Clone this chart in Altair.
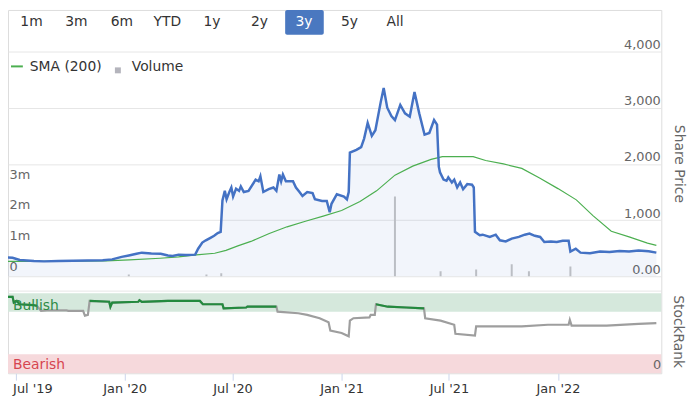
import altair as alt
import pandas as pd

# ---------------- data ----------------
price_dates = ["2019-06-13", "2019-06-26", "2019-07-08", "2019-08-01", "2019-08-18", "2019-09-11",
               "2019-10-06", "2019-10-31", "2019-11-25", "2019-12-11", "2019-12-27", "2020-01-08",
               "2020-01-21", "2020-01-30", "2020-02-15", "2020-03-02", "2020-03-14", "2020-03-22",
               "2020-04-01", "2020-04-13", "2020-04-29", "2020-05-04", "2020-05-11", "2020-05-17",
               "2020-05-24", "2020-05-31", "2020-06-06", "2020-06-11", "2020-06-14", "2020-06-18",
               "2020-06-21", "2020-06-26", "2020-06-29", "2020-07-02", "2020-07-07", "2020-07-12",
               "2020-07-15", "2020-07-20", "2020-07-28", "2020-08-09", "2020-08-14", "2020-08-17",
               "2020-08-22", "2020-08-31", "2020-09-08", "2020-09-13", "2020-09-18", "2020-09-21",
               "2020-09-24", "2020-09-29", "2020-10-11", "2020-10-16", "2020-10-22", "2020-10-27",
               "2020-11-04", "2020-11-13", "2020-11-17", "2020-11-29", "2020-12-07", "2020-12-12",
               "2020-12-15", "2020-12-24", "2021-01-05", "2021-01-10", "2021-01-13", "2021-01-15",
               "2021-01-26", "2021-02-03", "2021-02-08", "2021-02-14", "2021-02-21", "2021-02-27",
               "2021-03-08", "2021-03-13", "2021-03-19", "2021-03-26", "2021-04-01", "2021-04-10",
               "2021-04-18", "2021-04-26", "2021-05-04", "2021-05-12", "2021-05-21", "2021-05-29",
               "2021-06-06", "2021-06-11", "2021-06-14", "2021-06-16", "2021-06-22", "2021-06-27",
               "2021-06-30", "2021-07-06", "2021-07-10", "2021-07-15", "2021-07-20", "2021-07-25",
               "2021-08-01", "2021-08-09", "2021-08-12", "2021-08-14", "2021-08-22", "2021-08-27",
               "2021-09-08", "2021-09-18", "2021-09-25", "2021-10-05", "2021-10-15", "2021-10-27",
               "2021-11-06", "2021-11-14", "2021-11-23", "2021-12-02", "2021-12-09", "2021-12-20",
               "2021-12-30", "2022-01-09", "2022-01-19", "2022-01-22", "2022-01-31", "2022-02-08",
               "2022-02-24", "2022-03-13", "2022-03-29", "2022-04-15", "2022-05-01", "2022-05-17",
               "2022-06-03", "2022-06-16"]
price_values = [335, 330, 290, 270, 265, 270,
                275, 280, 285, 300, 345, 370,
                400, 420, 405, 400, 370, 360,
                385, 380, 385, 490, 600, 640,
                680, 720, 770, 790, 1350, 1520,
                1370, 1510, 1580, 1420, 1560, 1520,
                1600, 1500, 1520, 1720, 1690, 1780,
                1500, 1550, 1580, 1520, 1810, 1690,
                1810, 1690, 1690, 1580, 1500, 1430,
                1500, 1480, 1370, 1340, 1340, 1140,
                1290, 1460, 1420, 1370, 1500, 2200,
                2250, 2300, 2450, 2730, 2500, 2600,
                3100, 3350, 3000, 2850, 2780, 3050,
                2900, 2840, 3280, 2900, 2520, 2550,
                2780, 2700, 1950, 1850, 1720, 1700,
                1760, 1670, 1720, 1580, 1670, 1550,
                1640, 1630, 1580, 790, 730, 740,
                700, 740, 640, 620, 670, 700,
                740, 760, 720, 700, 610, 620,
                610, 630, 630, 440, 490, 420,
                410, 440, 430, 450, 440, 460,
                445, 420]

sma_dates = ["2019-06-13", "2019-08-01", "2019-10-01", "2019-12-01", "2020-01-09", "2020-03-01",
             "2020-04-01", "2020-05-01", "2020-06-01", "2020-06-20", "2020-07-10", "2020-08-01",
             "2020-09-01", "2020-10-01", "2020-11-01", "2020-12-01", "2021-01-01", "2021-02-01",
             "2021-03-01", "2021-04-01", "2021-05-01", "2021-06-01", "2021-06-20", "2021-08-11",
             "2021-09-01", "2021-10-01", "2021-11-01", "2021-12-01", "2022-01-01", "2022-02-01",
             "2022-03-01", "2022-04-01", "2022-05-01", "2022-06-01", "2022-06-16"]
sma_values = [265, 265, 268, 275, 290, 320,
              345, 380, 410, 460, 540, 620,
              760, 880, 980, 1070, 1170, 1330,
              1520, 1800, 1960, 2080, 2130, 2130,
              2060, 2000, 1920, 1750, 1560, 1360,
              1080, 800, 700, 590, 550]

vol_dates = ["2020-01-08", "2020-05-18", "2020-06-12", "2021-04-01", "2021-06-17", "2021-08-16",
             "2021-10-15", "2021-11-13", "2022-01-22"]
vol_values = [60000, 60000, 100000, 2600000, 160000, 220000,
              390000, 160000, 320000]

rank_dates = ["2019-06-13", "2019-06-26", "2019-06-28", "2019-07-03", "2019-07-08", "2019-07-31",
              "2019-08-06", "2019-08-13", "2019-08-23", "2019-09-25", "2019-09-28", "2019-10-23",
              "2019-10-26", "2019-10-31", "2019-11-03", "2019-12-06", "2019-12-08", "2019-12-11",
              "2020-01-24", "2020-01-26", "2020-01-30", "2020-03-14", "2020-05-07", "2020-05-12",
              "2020-06-14", "2020-06-16", "2020-07-24", "2020-07-26", "2020-09-13", "2020-09-15",
              "2020-10-20", "2020-11-04", "2020-11-25", "2020-12-10", "2020-12-13", "2021-01-01",
              "2021-01-13", "2021-01-15", "2021-01-21", "2021-02-17", "2021-02-19", "2021-02-26",
              "2021-02-28", "2021-03-20", "2021-04-20", "2021-05-20", "2021-05-22", "2021-06-17",
              "2021-07-10", "2021-07-12", "2021-08-14", "2021-08-16", "2021-11-01", "2021-12-15",
              "2022-01-19", "2022-01-21", "2022-01-24", "2022-03-24", "2022-05-17", "2022-06-16"]
rank_values = [93, 93, 86, 88, 84, 83,
               82, 76, 76.5, 76.5, 76, 76,
               70, 71, 88, 87, 81, 86,
               87, 89, 87, 88, 88, 84,
               84, 79, 80, 81, 81, 75,
               73, 71, 67, 62, 52, 49,
               45, 64, 67, 68, 71, 71,
               84, 81, 80, 79, 67, 64,
               59, 48, 46, 57, 57, 59,
               59, 65, 58, 58, 60, 61]
bull_threshold = 77.5

band_names = ["Bullish", "Bearish"]
band_lo = [75, 0]
band_hi = [97.5, 23]
rank_grid = [100]

price_ticks = [0, 1000, 2000, 3000, 4000]
vol_ticks = [0, 1000000, 2000000, 3000000]
x_ticks = [(2019, 7), (2020, 1), (2020, 7), (2021, 1), (2021, 7), (2022, 1)]

buttons = ["1m", "3m", "6m", "YTD", "1y", "2y", "3y", "5y", "All"]
selected = "3y"

# ---------------- frames ----------------
price_df = pd.DataFrame({"date": pd.to_datetime(price_dates), "price": price_values})
sma_df = pd.DataFrame({"date": pd.to_datetime(sma_dates), "price": sma_values})
vol_df = pd.DataFrame({"date": pd.to_datetime(vol_dates), "vol": vol_values})
rank_df = pd.DataFrame({"date": pd.to_datetime(rank_dates), "rank": rank_values})
bull = rank_df["rank"] >= bull_threshold
rank_df["seg"] = (bull != bull.shift()).cumsum()
green_df = rank_df[bull]
band_df = pd.DataFrame({"name": band_names, "lo": band_lo, "hi": band_hi})
grid_df = pd.DataFrame({"g": rank_grid})

FONT = "DejaVu Sans"
BLUE = "#4472c4"

# ---------------- scales / axes ----------------
xscale = alt.Scale(domain=[alt.DateTime(year=2019, month=6, date=26, hours=14),
                           alt.DateTime(year=2022, month=6, date=16)])
xaxis = alt.Axis(values=[alt.DateTime(year=y, month=m, date=1) for y, m in x_ticks],
                 format="%b '%y", title=None, domain=False, grid=False,
                 tickColor="#ccd6eb", tickSize=7, labelPadding=2, labelFontSize=13,
                 labelColor="#333333", labelFlush=10, labelFlushOffset=3,
                 labelOverlap=False)
X = alt.X("date:T", scale=xscale, axis=xaxis)

price_scale = alt.Scale(domain=[0, 4000], range=[269, 42], nice=False)
price_axis = alt.Axis(orient="right", values=price_ticks,
                      labelExpr="datum.value == 0 ? '0.00' : format(datum.value, ',')",
                      ticks=False, domain=False, grid=True, gridColor="#e6e6e6",
                      labelAlign="right", labelBaseline="bottom", labelPadding=-1,
                      labelFontSize=13, labelColor="#666666",
                      title="Share Price", titleFontSize=14, titleColor="#666666",
                      titleFontWeight="normal", titleAngle=90, titleX=17, titleY=155,
                      titleAlign="center", titleBaseline="middle")
vol_scale = alt.Scale(domain=[0, 7320000], range=[269, 42], nice=False)
vol_axis = alt.Axis(orient="left", values=vol_ticks,
                    labelExpr="datum.value == 0 ? '0' : (datum.value / 1000000) + 'm'",
                    ticks=False, domain=False, grid=False, labelAlign="left",
                    labelBaseline="bottom", labelPadding=-1, labelOffset=-3,
                    labelFontSize=13, labelColor="#666666", title=None)
rank_scale = alt.Scale(domain=[0, 100], range=[367, 284], nice=False)

# ---------------- price panel ----------------
area = alt.Chart(price_df).mark_area(color=BLUE, opacity=0.07, clip=True).encode(
    x=X, y=alt.Y("price:Q", scale=price_scale, axis=price_axis))
sma = alt.Chart(sma_df).mark_line(color="#4caf50", strokeWidth=1.2, clip=True).encode(
    x=X, y=alt.Y("price:Q", scale=price_scale, axis=price_axis))
pline = alt.Chart(price_df).mark_line(color=BLUE, strokeWidth=2.5, clip=True).encode(
    x=X, y=alt.Y("price:Q", scale=price_scale, axis=price_axis))
price_group = alt.layer(area, sma, pline)

vol_chart = alt.Chart(vol_df).mark_bar(color="#c4c4c4", width=2, clip=True).encode(
    x=X, y=alt.Y("vol:Q", scale=vol_scale, axis=vol_axis))

# ---------------- rank panel ----------------
bands = alt.Chart(band_df).mark_rect(opacity=1).encode(
    x=alt.value(0), x2=alt.value("width"),
    y=alt.Y("lo:Q", scale=rank_scale, axis=None), y2="hi:Q",
    color=alt.Color("name:N", scale=alt.Scale(domain=band_names, range=["#d5e8dc", "#f6d9dc"]),
                    legend=None))
rgrid = alt.Chart(grid_df).mark_rule(color="#e6e6e6").encode(
    y=alt.Y("g:Q", scale=rank_scale, axis=None))
rgray = alt.Chart(rank_df).mark_line(color="#9e9e9e", strokeWidth=2.2, clip=True).encode(
    x=X, y=alt.Y("rank:Q", scale=rank_scale, axis=None))
rgreen = alt.Chart(green_df).mark_line(color="#238a3e", strokeWidth=2.2, clip=True).encode(
    x=X, y=alt.Y("rank:Q", scale=rank_scale, axis=None), detail="seg:N")
rank_group = alt.layer(bands, rgrid, rgray, rgreen)

# ---------------- UI: labels, legend, buttons ----------------
def label(txt, x, y, **kw):
    base = dict(font=FONT, fontSize=14, align="left", baseline="middle", color="#333333")
    base.update(kw)
    return alt.Chart(pd.DataFrame({"t": [txt]})).mark_text(**base).encode(
        text="t:N", x=alt.value(x), y=alt.value(y))

ui = []
ui.append(label("Bullish", 5, 299, color="#2e8b46"))
ui.append(label("Bearish", 5, 359, color="#d64550"))
ui.append(label("0", 660, 359, align="right", fontSize=13, color="#666666"))
ui.append(label("StockRank", 677, 325, align="center", angle=90, color="#666666"))

one = pd.DataFrame({"k": [0]})
ui.append(alt.Chart(one).mark_rule(color="#4caf50", strokeWidth=2).encode(
    x=alt.value(3), x2=alt.value(15), y=alt.value(57)))
ui.append(label("SMA (200)", 22, 58))
ui.append(alt.Chart(one).mark_rect(color="#b4b4bc").encode(
    x=alt.value(108), x2=alt.value(114), y=alt.value(58), y2=alt.value(64)))
ui.append(label("Volume", 125, 58))

btn_x = [23.7, 69, 115, 161, 206, 254, 299, 345, 391]
for name, bx in zip(buttons, btn_x):
    if name == selected:
        ui.append(alt.Chart(one).mark_rect(color="#4a78c0", cornerRadius=2).encode(
            x=alt.value(bx - 19), x2=alt.value(bx + 20), y=alt.value(0), y2=alt.value(25)))
        ui.append(label(name, bx, 12.5, align="center", color="#ffffff"))
    else:
        ui.append(label(name, bx, 12.5, align="center"))

chart = alt.layer(rank_group, vol_chart, price_group, *ui).resolve_scale(
    y="independent", color="independent"
).properties(
    width=660, height=367,
    autosize=alt.AutoSizeParams(type="none"),
    padding={"left": 0, "top": 0, "right": 30, "bottom": 23},
).configure_view(stroke=None).configure(font=FONT).configure_axis(
    labelFont=FONT, titleFont=FONT)

chart.save("out.html", embed_options={"renderer": "svg", "actions": False})
